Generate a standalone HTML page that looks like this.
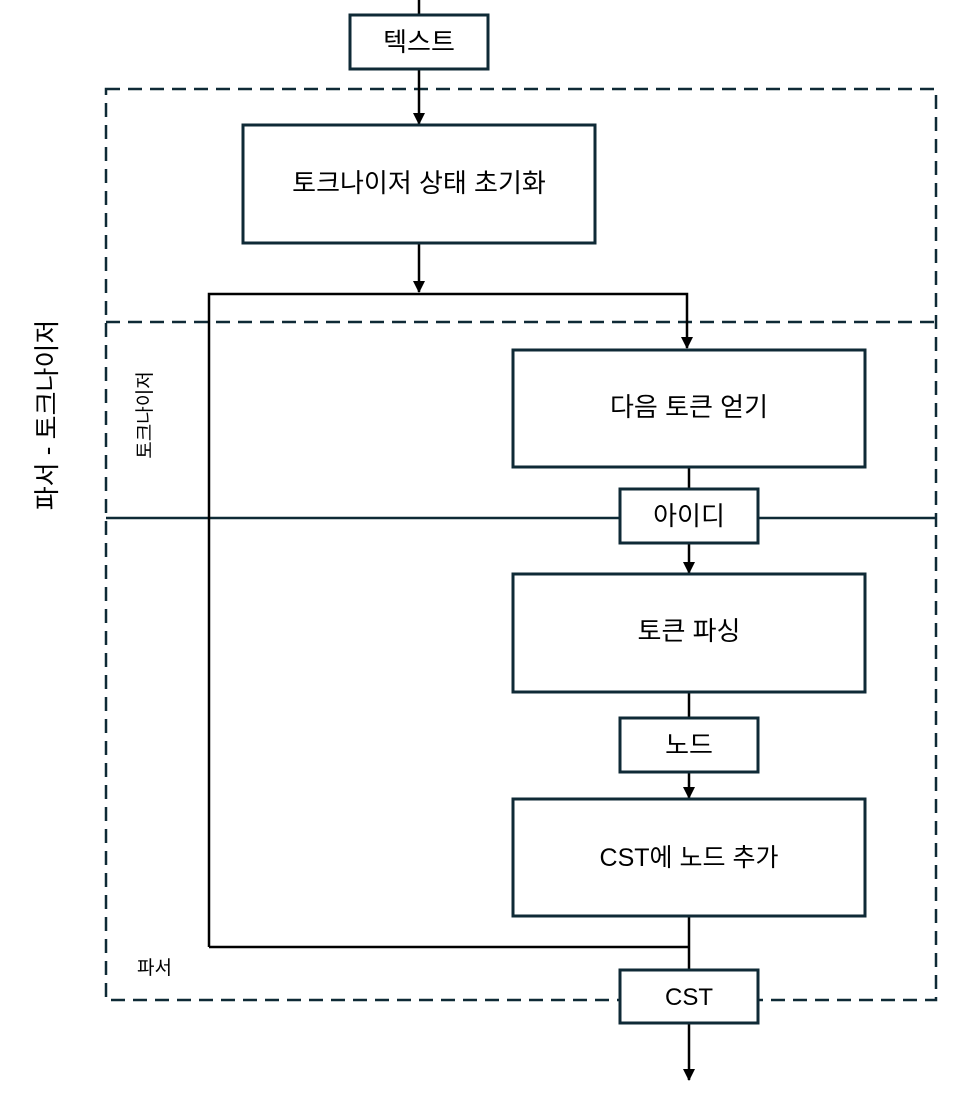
<!DOCTYPE html>
<html><head><meta charset="utf-8"><style>
html,body{margin:0;padding:0;background:#fff;}
svg{display:block;}
text{font-family:"Liberation Sans","Noto Sans CJK KR",sans-serif;fill:#000;}
</style></head><body>
<svg width="964" height="1096" viewBox="0 0 964 1096" xmlns="http://www.w3.org/2000/svg">
<defs><marker id="a" markerWidth="10" markerHeight="10" refX="5" refY="9" orient="auto" markerUnits="userSpaceOnUse"><path d="M0,0 L10,0 L5,10 Z" fill="#000"/></marker>
<marker id="b" markerWidth="12" markerHeight="12" refX="6" refY="11" orient="0" markerUnits="userSpaceOnUse"><path d="M0,0 L12,0 L6,12 Z" fill="#000" transform="rotate(0)"/></marker></defs>
<g fill="none" stroke="#0f2a36" stroke-width="2.5" stroke-dasharray="14,8">
<rect x="106" y="89" width="830" height="911"/>
<line x1="106" y1="322" x2="936" y2="322"/>
</g>
<line x1="106" y1="518" x2="936" y2="518" stroke="#0f2a36" stroke-width="2.5"/>
<g stroke="#000" stroke-width="2.5" fill="none">
<line x1="419" y1="0" x2="419" y2="15"/>
<line x1="419" y1="69" x2="419" y2="124" marker-end="url(#b)"/>
<line x1="419" y1="243" x2="419" y2="292" marker-end="url(#b)"/>
<polyline points="209,947 209,294 687,294 687,348" marker-end="url(#b)"/>
<polyline points="209,947 689,947"/>
<line x1="689" y1="467" x2="689" y2="489"/>
<line x1="689" y1="543" x2="689" y2="573" marker-end="url(#b)"/>
<line x1="689" y1="692" x2="689" y2="718"/>
<line x1="689" y1="772" x2="689" y2="798" marker-end="url(#b)"/>
<line x1="689" y1="916" x2="689" y2="970"/>
<line x1="689" y1="1023" x2="689" y2="1080" marker-end="url(#b)"/>
</g>
<g fill="#fff" stroke="#0f2a36" stroke-width="3">
<rect x="350" y="15" width="138" height="54"/>
<rect x="243" y="125" width="352" height="118"/>
<rect x="513" y="350" width="352" height="117"/>
<rect x="620" y="489" width="138" height="54"/>
<rect x="513" y="574" width="352" height="118"/>
<rect x="620" y="718" width="138" height="54"/>
<rect x="513" y="799" width="352" height="117"/>
<rect x="620" y="970" width="138" height="53"/>
</g>
<g font-size="26" text-anchor="middle">
<text x="419" y="51">텍스트</text>
<text x="419" y="192">토크나이저 상태 초기화</text>
<text x="689" y="416">다음 토큰 얻기</text>
<text x="689" y="525">아이디</text>
<text x="689" y="640">토큰 파싱</text>
<text x="689" y="754">노드</text>
<text x="689" y="866" font-size="25">CST에 노드 추가</text>
<text x="689" y="1005" font-size="24">CST</text>
<text transform="translate(56,415) rotate(-90)">파서 - 토크나이저</text>
<text font-size="19" transform="translate(151,415) rotate(-90)">토크나이저</text>
</g>
<text x="137" y="974" font-size="19">파서</text>
</svg>
</body></html>
